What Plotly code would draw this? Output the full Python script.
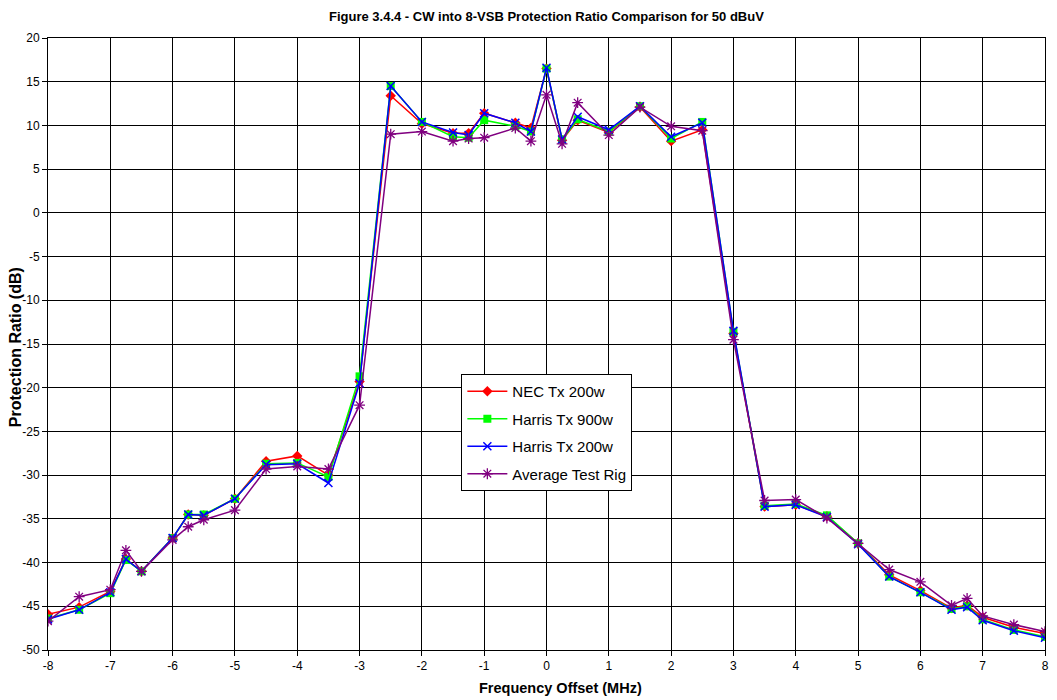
import plotly.graph_objects as go

freq = [-8, -7.5, -7, -6.75, -6.5, -6, -5.75, -5.5, -5, -4.5, -4, -3.5, -3, -2.5, -2,
        -1.5, -1.25, -1, -0.5, -0.25, 0, 0.25, 0.5, 1, 1.5, 2, 2.5, 3, 3.5, 4, 4.5,
        5, 5.5, 6, 6.5, 6.75, 7, 7.5, 8]

nec_200 = [-45.9, -45.1, -43.3, -39.6, -41.0, -37.2, -34.5, -34.6, -32.7, -28.4, -27.8,
           -30.0, -19.3, 13.4, 10.2, 9.1, 9.1, 11.4, 10.3, 9.7, 16.5, 8.3, 10.6, 9.2,
           12.1, 8.2, 9.5, -13.8, -33.6, -33.4, -34.7, -37.8, -41.4, -43.2, -45.2,
           -44.9, -46.25, -47.4, -48.1]

harris_900 = [-46.4, -45.4, -43.5, -39.7, -41.0, -37.2, -34.5, -34.5, -32.7, -28.7, -28.6,
              -30.2, -18.7, 14.5, 10.4, 8.7, 8.6, 10.6, 9.9, 9.3, 16.5, 8.4, 10.7, 9.3,
              12.2, 8.5, 10.4, -13.6, -33.5, -33.3, -34.6, -37.8, -41.6, -43.4, -45.3,
              -45.0, -46.5, -47.7, -48.5]

harris_200 = [-46.5, -45.4, -43.4, -39.6, -41.0, -37.2, -34.5, -34.6, -32.7, -28.8, -28.7,
              -30.9, -19.5, 14.5, 10.4, 9.2, 8.9, 11.4, 10.3, 9.3, 16.6, 8.4, 11.0, 9.5,
              12.2, 8.7, 10.3, -13.5, -33.6, -33.4, -34.8, -37.9, -41.6, -43.4, -45.4,
              -45.1, -46.6, -47.8, -48.6]

avg_rig = [-46.7, -43.9, -43.1, -38.6, -41.0, -37.4, -35.9, -35.1, -34.0, -29.3, -29.0,
           -29.3, -22.0, 9.0, 9.3, 8.2, 8.5, 8.6, 9.7, 8.2, 13.5, 7.9, 12.6, 8.9,
           12.1, 9.9, 9.4, -14.5, -32.9, -32.8, -34.9, -37.8, -40.8, -42.2, -44.9,
           -44.1, -46.1, -47.1, -47.9]

series_names = ["NEC Tx 200w", "Harris Tx 900w", "Harris Tx 200w", "Average Test Rig"]
x_ticks = list(range(-8, 9))
y_ticks = list(range(-50, 21, 5))

FONT = "Arial, Liberation Sans, sans-serif"

fig = go.Figure()
fig.add_trace(go.Scatter(x=freq, y=nec_200, name=series_names[0], mode="lines+markers",
                         line=dict(color="#FF0000", width=1.5), legendgroup="a",
                         marker=dict(symbol="diamond", size=8, color="#FF0000")))
fig.add_trace(go.Scatter(x=freq, y=harris_900, name=series_names[1], mode="lines+markers",
                         line=dict(color="#00FF00", width=1.5), legendgroup="b",
                         marker=dict(symbol="square", size=8, color="#00FF00")))
fig.add_trace(go.Scatter(x=freq, y=harris_200, name=series_names[2], mode="lines+markers",
                         line=dict(color="#0000FF", width=1.5), legendgroup="c",
                         marker=dict(symbol="x-thin-open", size=8, color="#0000FF",
                                     line=dict(color="#0000FF", width=1.5))))
fig.add_trace(go.Scatter(x=freq, y=avg_rig, name=series_names[3], mode="lines+markers",
                         line=dict(color="#800080", width=1.5), legendgroup="d",
                         marker=dict(symbol="asterisk-open", size=9, color="#800080",
                                     line=dict(color="#800080", width=1.3))))

fig.update_layout(
    width=1057, height=700,
    margin=dict(l=48, r=8, t=38, b=50),
    paper_bgcolor="white", plot_bgcolor="white",
    font=dict(family=FONT, size=12, color="black"),
    showlegend=True,
    legend=dict(x=0.4146, y=0.451, xanchor="left", yanchor="top",
                bgcolor="white", bordercolor="black", borderwidth=1,
                font=dict(family=FONT, size=15, color="black"),
                traceorder="grouped", tracegroupgap=5, itemwidth=40),
    annotations=[
        dict(text="<b>Figure 3.4.4 - CW into 8-VSB Protection Ratio Comparison for 50 dBuV</b>",
             x=0.5, y=1 + (38 - 17) / 612, xref="paper", yref="paper", showarrow=False,
             font=dict(family=FONT, size=13),
             yanchor="middle", xanchor="center"),
        dict(text="<b>Frequency Offset (MHz)</b>", x=0.5145, y=-0.062, xref="paper", yref="paper",
             showarrow=False, font=dict(family=FONT, size=14.5), xanchor="center", yanchor="middle"),
        dict(text="<b>Protection Ratio (dB)</b>", x=-0.033, y=0.495, xref="paper", yref="paper",
             showarrow=False, textangle=-90, font=dict(family=FONT, size=16),
             xanchor="center", yanchor="middle"),
    ],
)

fig.update_xaxes(range=[-8, 8], tickvals=x_ticks, ticktext=[str(v) for v in x_ticks],
                 showgrid=True, gridcolor="black", gridwidth=1,
                 showline=True, linecolor="black", linewidth=1, mirror=True,
                 ticks="outside", ticklen=5, tickcolor="black",
                 zeroline=False, tickfont=dict(size=12))
fig.update_yaxes(range=[-50, 20], tickvals=y_ticks, ticktext=[str(v) for v in y_ticks],
                 showgrid=True, gridcolor="black", gridwidth=1,
                 showline=True, linecolor="black", linewidth=1, mirror=True,
                 ticks="outside", ticklen=5, tickcolor="black",
                 zeroline=False, tickfont=dict(size=12))

fig.write_html("out.html")
